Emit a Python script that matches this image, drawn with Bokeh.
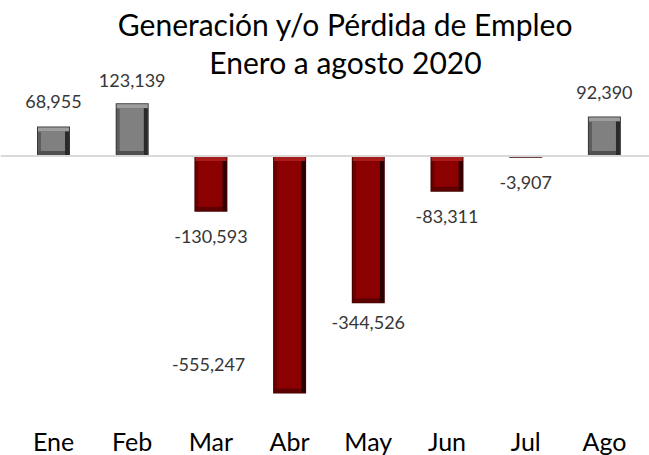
import numpy as np
from bokeh.plotting import figure
from bokeh.models import Range1d, Span, Label, ColumnDataSource
from bokeh.core.properties import value
from bokeh.embed import file_html
from bokeh.resources import INLINE

# ---- data ----
months = ["Ene", "Feb", "Mar", "Abr", "May", "Jun", "Jul", "Ago"]
empleo = [68955, 123139, -130593, -555247, -344526, -83311, -3907, 92390]
title_line1 = "Generación y/o Pérdida de Empleo"
title_line2 = "Enero a agosto 2020"

# ---- layout (pixels) ----
W, H = 649, 455
ZERO_PX = 155.5          # zero line from top of frame
Y_PER_PX = 2338.0
X_PER_PX = 1 / 78.7
X0_PX = 53               # first category centre
BAR_W = 33 * X_PER_PX
BEV_T, BEV_L, BEV_R, BEV_B = 4, 3, 4, 4
MONTH_BASELINE_UP = 15   # px above bottom edge
TITLE_DX = 20.5
# label offsets in px (screen, y down)
label_dx = [0, 0, 0, -81, 0, 0, 0, 0]
label_dy = [-25, -23, 25, -29, 19, 25, 25, -24]

GRAY = dict(outer="#383838", left="#5c5c5c", top="#9e9e9e", right="#2a2a2a",
            bottom="#505050", face="#808080")
RED = dict(outer="#420000", left="#6c0000", top="#a81c1c", right="#2c0000",
           bottom="#5c0000", face="#8b0000")

x_range = Range1d(-X0_PX * X_PER_PX, (W - X0_PX) * X_PER_PX)
y_range = Range1d(-(H - ZERO_PX) * Y_PER_PX, ZERO_PX * Y_PER_PX)

p = figure(width=W, height=H, output_backend="svg", toolbar_location=None,
           x_range=x_range, y_range=y_range, x_axis_location=None,
           y_axis_location=None, min_border=0, outline_line_color=None,
           background_fill_color="white", border_fill_color="white")
p.grid.visible = False

xs = np.arange(len(months))
layer_names = ["outer", "left", "top", "right", "bottom", "face"]
layers = {k: dict(left=[], right=[], top=[], bottom=[], color=[]) for k in layer_names}

def add(layer, l, r, t, b, c):
    d = layers[layer]
    d["left"].append(l); d["right"].append(r); d["top"].append(t)
    d["bottom"].append(b); d["color"].append(c)

px, py = X_PER_PX, Y_PER_PX
for i, v in zip(xs, empleo):
    pal = GRAY if v >= 0 else RED
    hi, lo = max(v, 0), min(v, 0)
    l, r = i - BAR_W / 2, i + BAR_W / 2
    add("outer", l, r, hi, lo, pal["outer"])
    if (hi - lo) / py > BEV_T + BEV_B + 6:
        il, ir, it, ib = l + px, r - px, hi - py, lo + py
        add("left", il, ir, it, ib, pal["left"])
        add("top", il, ir, it, it - BEV_T * py, pal["top"])
        add("right", ir - BEV_R * px, ir, it - BEV_T * py, ib, pal["right"])
        add("bottom", il, ir - BEV_R * px, ib + BEV_B * py, ib, pal["bottom"])
        add("face", il + BEV_L * px, ir - BEV_R * px, it - BEV_T * py,
            ib + BEV_B * py, pal["face"])

for k in layer_names:
    p.quad(left="left", right="right", top="top", bottom="bottom",
           fill_color="color", line_color=None, source=ColumnDataSource(layers[k]))

p.add_layout(Span(location=0, dimension="width", line_color="#d9d9d9", line_width=2))

# value labels
labels = [f"{v:,}" for v in empleo]
p.text(x=xs, y=empleo, text=labels, x_offset=label_dx, y_offset=label_dy,
       text_align="center", text_baseline="alphabetic",
       text_font=value("Lato"), text_font_size="18px", text_color="#363636")

# category labels along the bottom
p.text(x=xs, y=[y_range.start] * len(months), text=months,
       y_offset=-MONTH_BASELINE_UP, text_align="center", text_baseline="alphabetic",
       text_font=value("Lato"), text_font_size="25px", text_color="#000000")

# title
xmid = (x_range.start + x_range.end) / 2
for txt, off in [(title_line1, -23), (title_line2, -61)]:
    p.add_layout(Label(x=xmid, y=y_range.end, x_offset=TITLE_DX, y_offset=off,
                       text=txt, text_align="center", text_baseline="alphabetic",
                       text_font="Lato", text_font_size="30px", text_color="#000000"))

open("out.html", "w").write(file_html(p, INLINE))
